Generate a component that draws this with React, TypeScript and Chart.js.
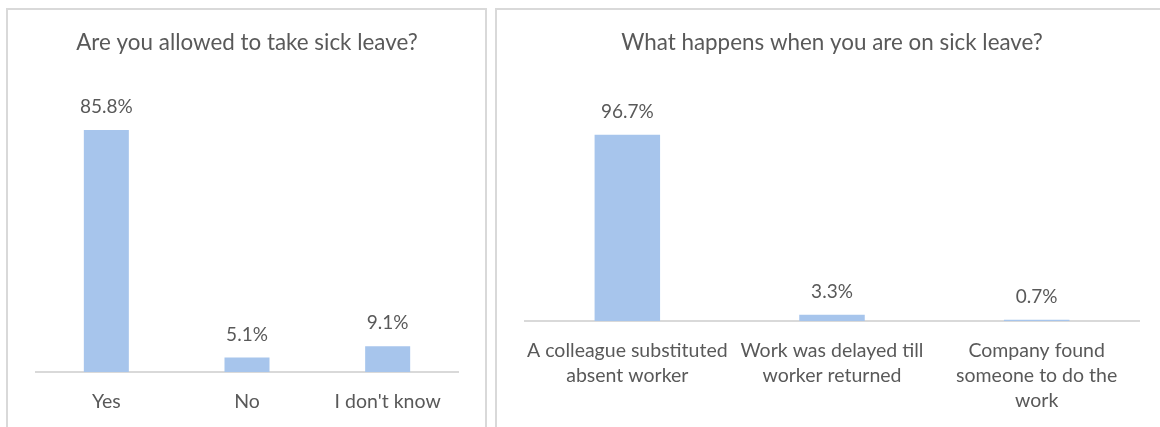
import React, { useEffect, useRef } from "react";
import { Chart, registerables } from "chart.js";

Chart.register(...registerables);

const leftTitle = "Are you allowed to take sick leave?";
const leftCategories: string[] = ["Yes", "No", "I don't know"];
const leftValues: number[] = [85.8, 5.1, 9.1];

const rightTitle = "What happens when you are on sick leave?";
const rightCategories: string[][] = [
  ["A colleague substituted", "absent worker"],
  ["Work was delayed till", "worker returned"],
  ["Company found", "someone to do the", "work"],
];
const rightValues: number[] = [96.7, 3.3, 0.7];

const FONT = "Lato, 'Open Sans', sans-serif";
const TEXT = "#595959";
const BAR = "#a7c5ec";
const AXIS = "#d9d9d9";

const valueLabelPlugin = {
  id: "valueLabels",
  afterDatasetsDraw(chart: any) {
    const ctx = chart.ctx;
    const meta = chart.getDatasetMeta(0);
    const data = chart.data.datasets[0].data;
    ctx.save();
    ctx.font = `19px ${FONT}`;
    ctx.fillStyle = TEXT;
    ctx.textAlign = "center";
    ctx.textBaseline = "middle";
    meta.data.forEach((bar: any, i: number) => {
      ctx.fillText(`${Number(data[i]).toFixed(1)}%`, bar.x, bar.y - 23);
    });
    ctx.restore();
  },
};

type PanelProps = {
  title: string;
  labels: any[];
  values: number[];
  yMax: number;
  left: number;
  width: number;
  canvasWidth: number;
  padLeft: number;
  padRight: number;
  padBottom: number;
};

function Panel(p: PanelProps) {
  const ref = useRef<HTMLCanvasElement | null>(null);
  useEffect(() => {
    if (!ref.current) return;
    const chart = new Chart(ref.current, {
      type: "bar",
      data: {
        labels: p.labels,
        datasets: [
          {
            data: p.values,
            backgroundColor: BAR,
            borderWidth: 0,
            categoryPercentage: 1,
            barPercentage: 0.32,
          },
        ],
      },
      options: {
        responsive: false,
        animation: false,
        layout: {
          padding: { top: 0, left: p.padLeft, right: p.padRight, bottom: p.padBottom },
        },
        plugins: {
          legend: { display: false },
          tooltip: { enabled: false },
          title: {
            display: true,
            text: p.title,
            color: TEXT,
            font: { family: FONT, size: 22.4, weight: "normal", lineHeight: 1.2 },
            padding: { top: 19.6, bottom: 33.5 },
          },
        },
        scales: {
          x: {
            grid: { display: false, drawTicks: false, tickLength: 0 },
            border: { display: true, color: AXIS, width: 2 },
            ticks: {
              color: TEXT,
              padding: 17,
              font: { family: FONT, size: 19.5, lineHeight: "25px" },
              maxRotation: 0,
              autoSkip: false,
            },
          },
          y: {
            display: false,
            min: 0,
            max: p.yMax,
          },
        },
      },
      plugins: [valueLabelPlugin],
    } as any);
    return () => chart.destroy();
  }, []);
  return (
    <div
      style={{
        position: "absolute",
        left: p.left,
        top: 8,
        width: p.width,
        height: 440,
        border: `2px solid ${AXIS}`,
        boxSizing: "border-box",
        background: "#fff",
      }}
    >
      <canvas ref={ref} width={p.canvasWidth} height={426} style={{ display: "block" }} />
    </div>
  );
}

export default function App() {
  return (
    <div
      style={{
        position: "absolute",
        left: 0,
        top: 0,
        width: 1160,
        height: 427,
        overflow: "hidden",
        background: "#fff",
      }}
    >
      <Panel
        title={leftTitle}
        labels={leftCategories}
        values={leftValues}
        yMax={100}
        left={6}
        width={481}
        canvasWidth={477}
        padLeft={28}
        padRight={27}
        padBottom={5}
      />
      <Panel
        title={rightTitle}
        labels={rightCategories}
        values={rightValues}
        yMax={120}
        left={495}
        width={674}
        canvasWidth={670}
        padLeft={28}
        padRight={28}
        padBottom={6}
      />
    </div>
  );
}
